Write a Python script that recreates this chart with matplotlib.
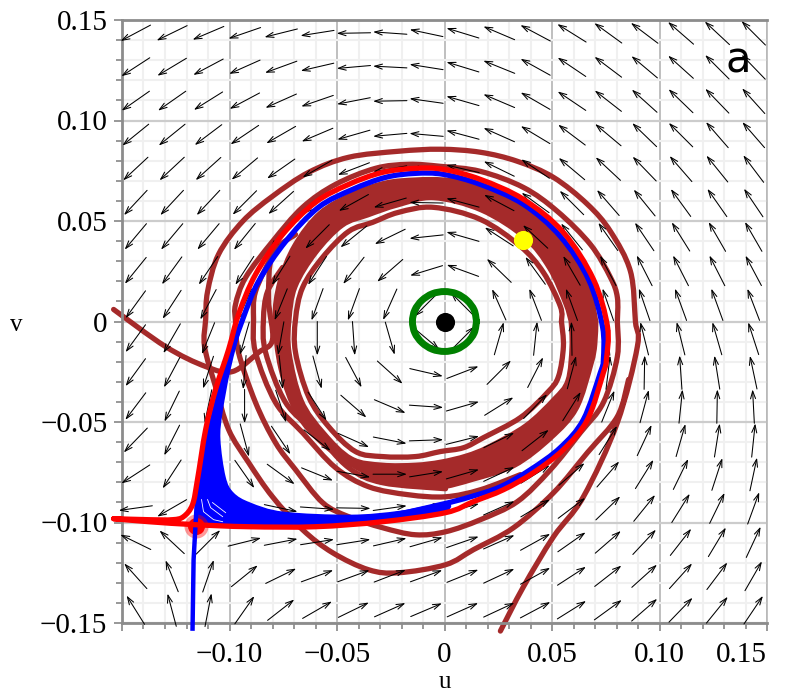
import numpy as np
import matplotlib
matplotlib.use('Agg')
import matplotlib.pyplot as plt
from matplotlib.path import Path
from matplotlib.patches import PathPatch

# direction field, arrow direction in degrees on screen, top row first
field_u = np.linspace(-0.1437, 0.1437, 18)
field_v = np.linspace(0.1435, -0.1435, 18)
field_angle = [
    [208, 206, 203, 199, 194, 189, 181, 176, 168, 163, 157, 152, 148, 144, 143, 139, 137, 135],
    [213, 211, 208, 204, 200, 193, 185, 177, 171, 163, 158, 151, 146, 143, 140, 138, 135, 134],
    [215, 215, 212, 208, 204, 199, 191, 181, 172, 164, 157, 150, 146, 142, 138, 136, 134, 132],
    [219, 219, 217, 214, 210, 203, 196, 185, 175, 165, 156, 149, 143, 140, 136, 135, 131, 131],
    [223, 223, 222, 220, 215, 210, 201, 190, 178, 167, 154, 146, 140, 137, 134, 131, 129, 127],
    [227, 227, 227, 225, 222, 219, 209, 196, 179, 165, 152, 144, 135, 131, 129, 126, 125, 124],
    [230, 230, 230, 231, 229, 225, 219, 206, 186, 164, 147, 137, 129, 125, 124, 122, 120, 120],
    [231, 234, 236, 237, 238, 237, 232, 221, 197, 160, 136, 126, 120, 118, 117, 117, 117, 118],
    [234, 237, 242, 246, 248, 250, 250, 246, 225, 135, 114, 111, 110, 109, 109, 110, 110, 111],
    [234, 240, 248, 254, 260, 270, 274, 286, 320, 45, 74, 84, 91, 96, 104, 104, 106, 108],
    [234, 242, 252, 265, 276, 285, 298, 318, 347, 21, 45, 63, 75, 83, 89, 94, 99, 102],
    [233, 244, 258, 270, 288, 303, 319, 337, 356, 16, 32, 46, 58, 68, 75, 84, 89, 93],
    [226, 243, 265, 285, 304, 322, 336, 349, 2, 14, 26, 38, 50, 58, 65, 74, 81, 84],
    [213, 237, 280, 305, 324, 338, 350, 360, 9, 16, 25, 32, 41, 49, 58, 64, 72, 78],
    [188, 210, 300, 330, 348, 356, 359, 8, 15, 15, 24, 31, 37, 44, 51, 58, 64, 70],
    [154, 137, 45, 14, 11, 9, 9, 13, 16, 19, 24, 29, 35, 41, 47, 52, 59, 65],
    [132, 112, 71, 39, 26, 20, 20, 21, 20, 22, 25, 29, 33, 38, 42, 48, 53, 60],
    [122, 105, 79, 55, 38, 30, 26, 24, 23, 24, 25, 28, 32, 36, 41, 46, 51, 56],
]

# brown trajectories
spiral_u = [.0260, .0367, .0507, .0646, .0804, .0897, .0888, .0865, .0772, .0665, .0507, .0339, .0167, -.0019,
            -.0214, -.0446, -.0632, -.0800, -.0939, -.1051, -.1102, -.1111, -.1116, -.1065, -.1004, -.0911,
            -.0800, -.0660, -.0521, -.0353, -.0214, .0005, .0135, .0321, .0507, .0665, .0804, .0856]
spiral_v = [-.1540, -.1320, -.1071, -.0872, -.0503, -.0125, 0, .0249, .0448, .0583, .0717, .0797, .0842, .0857,
            .0847, .0817, .0742, .0623, .0498, .0334, .0149, .0010, -.0125, -.0324, -.0538, -.0702,
            -.0872, -.1036, -.1150, -.1235, -.1250, -.1210, -.1135, -.1026, -.0852, -.0652, -.0473, -.0289]
loop2_u = [.0804, .0804, .0772, .0679, .0525, .0367, .0167, -.0019, -.0167, -.0321, -.0507, -.0660, -.0800, -.0925,
           -.0972, -.0972, -.0958, -.0879, -.0786, -.0693, -.0567, -.0446, -.0288, -.0135, .0005, .0167, .0339,
           .0493, .0632, .0739, .0804, .0804]
loop2_v = [0, .0120, .0219, .0383, .0548, .0667, .0747, .0772, .0782, .0762, .0682, .0568, .0398, .0219,
           .0085, 0, -.0154, -.0403, -.0603, -.0737, -.0901, -.0971, -.1026, -.1061, -.1046, -.0986, -.0896,
           -.0737, -.0553, -.0403, -.0174, 0]
left_tail_u = [-.1539, -.1297, -.1111, -.0986, -.0865, -.0800, -.0818, -.0800, -.0693]
left_tail_v = [.0060, -.0125, -.0224, -.0249, -.0154, -.0090, .0110, .0334, .0433]
loop3_u = [-.0800, -.0879, -.0888, -.0879, -.0786, -.0660, -.0507, -.0353, -.0167, .0005, .0167, .0353]
loop3_v = [.0334, .0149, .0010, -.0154, -.0403, -.0553, -.0727, -.0822, -.0862, -.0872, -.0837, -.0762]
loop4_u = [-.0753, -.0823, -.0842, -.0832, -.0739, -.0600, -.0446, -.0288, .0005]
loop4_v = [.0269, .0149, .0010, -.0154, -.0403, -.0553, -.0727, -.0802, -.0832]
inner_u = [.0544, .0553, .0530, .0479, .0353, .0181, .0088, -.0019, -.0135, -.0288, -.0414, -.0539, -.0632,
           -.0693, -.0693, -.0660, -.0567, -.0446, -.0335, -.0214, -.0051, .0167, .0353, .0460, .0539, .0544]
inner_v = [0, -.0125, -.0274, -.0353, -.0478, -.0578, -.0628, -.0647, -.0672, -.0672, -.0647, -.0523, -.0374,
           -.0154, .0010, .0169, .0319, .0448, .0493, .0543, .0568, .0508, .0374, .0244, .0075, 0]

# dense brown band, outer and inner edge
band_out_u = [.0716, .0711, .0693, .0623, .0502, .0330, .0135, -.0019, -.0135, -.0288, -.0414, -.0567, -.0693,
              -.0772, -.0800, -.0777, -.0707, -.0586, -.0428, -.0274, -.0135, -.0005, .0167, .0367, .0539, .0670, .0716]
band_out_v = [0, -.0115, -.0214, -.0438, -.0588, -.0727, -.0797, -.0837, -.0827, -.0797, -.0737, -.0623, -.0468,
              -.0239, .0010, .0199, .0383, .0548, .0647, .0702, .0717, .0717, .0692, .0593, .0423, .0209, 0]
band_in_u = [.0577, .0581, .0563, .0502, .0372, .0200, .0098, -.0019, -.0135, -.0288, -.0428, -.0553, -.0656,
             -.0711, -.0711, -.0684, -.0591, -.0470, -.0353, -.0214, -.0051, .0167, .0367, .0479, .0553, .0577]
band_in_v = [0, -.0125, -.0289, -.0378, -.0508, -.0613, -.0657, -.0687, -.0702, -.0702, -.0672, -.0548, -.0388,
             -.0154, .0010, .0169, .0334, .0468, .0518, .0568, .0603, .0543, .0408, .0259, .0085, 0]

# blue limit cycle and the fan of curves running into it
blue_u = [-.1149, -.1111, -.1079, -.1018, -.0939, -.0865, -.0739, -.0586, -.0428, -.0274, -.0135, -.0005, .0167,
          .0367, .0539, .0670, .0735, .0739, .0725, .0646, .0539, .0400, .0260, .0121, -.0019, -.0288, -.0600,
          -.0911, -.1065]
blue_v = [-.0847, -.0637, -.0488, -.0239, .0010, .0199, .0398, .0568, .0657, .0717, .0737, .0732, .0682,
          .0583, .0423, .0209, -.0025, -.0189, -.0254, -.0488, -.0627, -.0737, -.0822, -.0872, -.0911, -.0971, -.0996,
          -.1001, -.1006]
fan_u = [-.0935, -.0995, -.1032, -.1042, -.1018, -.0981, -.0902, -.0749, -.0437, -.0205, .0005, .0005, -.0205, -.0437,
         -.0749, -.1065, -.1149, -.1158, -.1149, -.1079, -.1018]
fan_v = [.0010, -.0239, -.0453, -.0588, -.0772, -.0851, -.0901, -.0946, -.0961, -.0941, -.0901, -.0946, -.0991, -.1011,
         -.1021, -.1021, -.1011, -.0936, -.0847, -.0488, -.0239]
stem_u = [-.1172, -.1167, -.1158, -.1149]
stem_v = [-.1539, -.1185, -.1011, -.0837]
gap1_u = [-.1130, -.1121, -.1074, -.1032]
gap1_v = [-.0886, -.0946, -.0986, -.0996]
gap2_u = [-.1102, -.1088, -.1032]
gap2_v = [-.0886, -.0926, -.0971]
gap3_u = [-.1079, -.1018]
gap3_v = [-.0901, -.0951]

# red separatrix
red_u = [-.1539, -.1376, -.1265, -.1214, -.1172, -.1149, -.1111, -.1065, -.1004, -.0958, -.0879, -.0753, -.0600,
         -.0446, -.0288, -.0135, -.0005, .0167, .0367, .0553, .0693, .0758, .0753, .0739, .0665, .0553, .0414,
         .0274, .0135, .0005, -.0288, -.0600, -.0911, -.1158, -.1376, -.1539]
red_v = [-.0981, -.0986, -.0986, -.0971, -.0911, -.0787, -.0538, -.0339, -.0139, .0035, .0234, .0433, .0593,
         .0682, .0742, .0762, .0757, .0707, .0608, .0443, .0209, -.0025, -.0189, -.0254, -.0488, -.0637, -.0752,
         -.0837, -.0896, -.0951, -.0996, -.1021, -.1021, -.1011, -.0996, -.0981]

# small green orbit round the centre
green_u = [.0149, .0138, .0105, .0057, 0, -.0057, -.0105, -.0138, -.0149, -.0138, -.0105, -.0057, 0, .0057, .0105, .0138, .0149]
green_v = [0, .0057, .0105, .0138, .0149, .0138, .0105, .0057, 0, -.0057, -.0105, -.0138, -.0149, -.0138, -.0105, -.0057, 0]

saddle = (-.1158, -.1018)
centre = (0, 0)
start = (.0367, .0404)

major_ticks = [-0.15, -0.10, -0.05, 0, 0.05, 0.10, 0.15]
minor_ticks = np.round(np.arange(-0.15, 0.1501, 0.01), 2)
y_labels = ['\u22120.15', '\u22120.10', '\u22120.05', '0', '0.05', '0.10', '0.15']
x_labels = ['', '\u22120.10', '\u22120.05', '0', '0.05', '0.10', '0.15']

brown = '#a52a2a'
serif = ['Liberation Serif', 'DejaVu Serif']


def curve_verts(cu, cv):
    # bezier segments through the read points, so the line has no corners
    p = np.column_stack([cu, cv])
    q = np.vstack([p[0], p, p[-1]])
    verts = [p[0]]
    for i in range(1, len(q) - 2):
        verts.append(q[i] + (q[i + 1] - q[i - 1]) / 6)
        verts.append(q[i + 1] - (q[i + 2] - q[i]) / 6)
        verts.append(q[i + 1])
    return verts


def curve_path(cu, cv):
    verts = curve_verts(cu, cv)
    return Path(verts, [Path.MOVETO] + [Path.CURVE4] * (len(verts) - 1))


def draw_curve(ax, cu, cv, color, lw, zorder, capstyle='round'):
    ax.add_patch(PathPatch(curve_path(cu, cv), fc='none', ec=color, lw=lw, zorder=zorder,
                           clip_on=False, capstyle=capstyle, joinstyle='round'))


fig = plt.figure(figsize=(8, 7), dpi=100)
ax = fig.add_axes([122 / 800, 77 / 700, 645 / 800, 603 / 700])
ax.set_xlim(-0.15, 0.15)
ax.set_ylim(-0.15, 0.15)

ax.set_xticks(major_ticks)
ax.set_yticks(major_ticks)
ax.set_xticks(minor_ticks, minor=True)
ax.set_yticks(minor_ticks, minor=True)
ax.set_xticklabels(x_labels, family=serif, fontsize=21)
ax.set_yticklabels(y_labels, family=serif, fontsize=21)
ax.get_xticklabels()[-1].set_ha('right')
ax.tick_params(which='major', length=5.5, width=1.3, color='#909090')
ax.tick_params(which='major', axis='x', pad=8)
ax.tick_params(which='major', axis='y', pad=5)
ax.tick_params(which='minor', length=4, width=1.3, color='#909090')

ax.set_axisbelow(True)
ax.grid(which='minor', color='#f0f0f0', lw=1.5)
ax.grid(which='major', axis='x', color='#b4b4b4', lw=1.2)
ax.grid(which='major', axis='y', color='#cccccc', lw=1.6)

for name in ['left', 'top', 'bottom']:
    ax.spines[name].set_color('#8c8c8c')
    ax.spines[name].set_linewidth(2)
ax.spines['right'].set_color('#b8b8b8')
ax.spines['right'].set_linewidth(1.2)

# brown curves first, the arrows sit over them
ring = curve_verts(band_out_u, band_out_v)
hole = curve_verts(band_in_u[::-1], band_in_v[::-1])
band_codes = ([Path.MOVETO] + [Path.CURVE4] * (len(ring) - 1)
              + [Path.MOVETO] + [Path.CURVE4] * (len(hole) - 1))
ax.add_patch(PathPatch(Path(ring + hole, band_codes), fc=brown, ec='none', lw=0, zorder=2))
for cu, cv in [(spiral_u, spiral_v), (loop2_u, loop2_v), (left_tail_u, left_tail_v),
               (loop3_u, loop3_v), (loop4_u, loop4_v), (inner_u, inner_v)]:
    draw_curve(ax, cu, cv, brown, 3.8, 2)

half = 12.2
for j, row in enumerate(field_angle):
    for i, a in enumerate(row):
        dx = half * np.cos(np.radians(a))
        dy = half * np.sin(np.radians(a))
        x0, y0 = field_u[i], field_v[j]
        # 1 point = 1/0.72 px, scales are 2150 and 2010 px per unit
        tail = (x0 - dx / 0.72 / 2150, y0 - dy / 0.72 / 2010)
        head = (x0 + dx / 0.72 / 2150, y0 + dy / 0.72 / 2010)
        ax.annotate('', xy=head, xytext=tail, annotation_clip=False,
                    arrowprops=dict(arrowstyle='->,head_length=0.55,head_width=0.18', mutation_scale=10,
                                    color='black', lw=0.75, shrinkA=0, shrinkB=0),
                    zorder=3)

ax.add_patch(PathPatch(curve_path(fan_u + fan_u[:1], fan_v + fan_v[:1]), fc='blue', ec='none', lw=0, zorder=4))
draw_curve(ax, blue_u, blue_v, 'blue', 3.8, 4)
ax.scatter(*saddle, s=300, color='red', alpha=0.4, lw=0, zorder=4.2, clip_on=False)
ax.scatter(*saddle, s=150, color='red', lw=0, zorder=4.3, clip_on=False)
ax.plot(stem_u, stem_v, color='blue', lw=3.2, clip_on=False, solid_capstyle='butt', zorder=4.4)
for cu, cv in [(gap1_u, gap1_v), (gap2_u, gap2_v), (gap3_u, gap3_v)]:
    ax.plot(cu, cv, color='white', lw=0.6, zorder=4.5)
draw_curve(ax, red_u, red_v, 'red', 3.8, 5)

draw_curve(ax, green_u, green_v, 'green', 5, 6)
ax.scatter(*centre, s=190, color='black', lw=0, zorder=7)
ax.scatter(*start, s=190, color='yellow', lw=0, zorder=7)

ax.text(0.1367, 0.130, 'a', fontsize=30, family='DejaVu Sans', ha='center', va='center', zorder=8)

ax.set_xlabel('u', family=serif, fontsize=18, va='center')
ax.set_ylabel('v', family=serif, fontsize=18, rotation=0, ha='center', va='center')
ax.xaxis.set_label_coords(0.5, -0.098)
ax.yaxis.set_label_coords(-0.164, 0.495)

fig.savefig('out.png', dpi=100)
